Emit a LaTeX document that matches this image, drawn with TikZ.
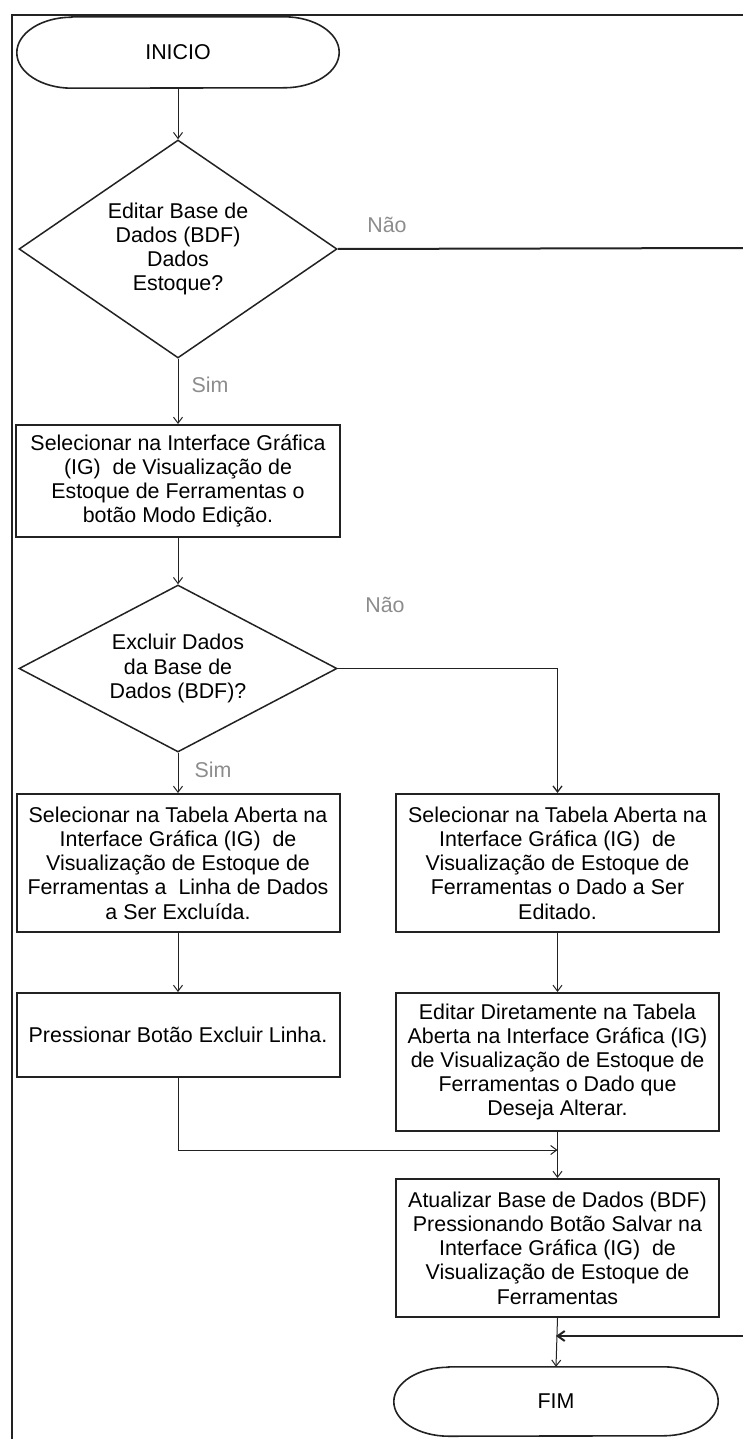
\documentclass[tikz,border=0pt]{standalone}
\usepackage{fontspec}
\setmainfont{Liberation Sans}
\usetikzlibrary{arrows.meta,shapes.geometric}
\definecolor{linec}{HTML}{222222}
\definecolor{labc}{HTML}{8C8C8C}
\tikzset{
  every node/.style={font=\fontsize{21.4}{24.2}\selectfont, align=center},
  procbox/.style={draw=linec, line width=2pt, rectangle, inner sep=0pt, text=black},
  decis/.style={draw=linec, line width=1.5pt, diamond, inner sep=0pt, text=black},
  termbox/.style={rectangle, inner sep=0pt, text=black},
  termline/.style={draw=linec, line width=1.6pt},
  conn/.style={draw=linec, line width=1pt, -{Straight Barb[length=6pt,width=9pt]}},
  sideconn/.style={draw=linec, line width=1.3pt, -{Straight Barb[length=6pt,width=9pt]}},
  thickline/.style={draw=linec, line width=2pt},
  thickconn/.style={draw=linec, line width=2pt, -{Straight Barb[length=7pt,width=10pt]}},
  framel/.style={draw=linec, line width=2pt},
  lab/.style={text=labc},
}
\begin{document}
\begin{tikzpicture}[x=1pt,y=-1pt]
\useasboundingbox (0,0) rectangle (743,1439);
% frame
\draw[framel] (743,15) -| (12,1439);

% terminals
\node[termbox, minimum width=322pt, minimum height=71pt] (inicio) at (178,52.5) {INICIO};
\draw[termline] ([xshift=55pt]inicio.north west) -- ([xshift=-55pt]inicio.north east)
  arc[start angle=90, end angle=-90, x radius=55pt, y radius=35.5pt]
  -- ([xshift=55pt]inicio.south west)
  arc[start angle=270, end angle=90, x radius=55pt, y radius=35.5pt] -- cycle;

\node[termbox, minimum width=324pt, minimum height=69pt] (fim) at (556,1401.5) {FIM};
\draw[termline] ([xshift=55pt]fim.north west) -- ([xshift=-55pt]fim.north east)
  arc[start angle=90, end angle=-90, x radius=55pt, y radius=34.5pt]
  -- ([xshift=55pt]fim.south west)
  arc[start angle=270, end angle=90, x radius=55pt, y radius=34.5pt] -- cycle;

% decisions
\node[decis, minimum width=318pt, minimum height=218pt, aspect=1.46] (d1) at (178,249)
  {Editar Base de\\Dados (BDF)\\Dados\\Estoque?};
\node[decis, minimum width=318pt, minimum height=167pt, aspect=1.9] (d2) at (178,668.5)
  {Excluir Dados\\da Base de\\Dados (BDF)?};

% process boxes
\node[procbox, minimum width=324pt, minimum height=112pt] (b1) at (178,481)
  {Selecionar na Interface Gráfica\\(IG)\ \ de Visualização de\\Estoque de Ferramentas o\\botão Modo Edição.};
\node[procbox, minimum width=323pt, minimum height=138pt] (l1) at (178,863)
  {Selecionar na Tabela Aberta na\\Interface Gráfica (IG)\ \ de\\Visualização de Estoque de\\Ferramentas a\ \ Linha de Dados\\a Ser Excluída.};
\node[procbox, minimum width=323pt, minimum height=138pt] (r1) at (557.5,863)
  {Selecionar na Tabela Aberta na\\Interface Gráfica (IG)\ \ de\\Visualização de Estoque de\\Ferramentas o Dado a Ser\\Editado.};
\node[procbox, minimum width=323pt, minimum height=84pt] (l2) at (178,1035)
  {Pressionar Botão Excluir Linha.};
\node[procbox, minimum width=323pt, minimum height=138pt] (r2) at (557.5,1062)
  {Editar Diretamente na Tabela\\Aberta na Interface Gráfica (IG)\\de Visualização de Estoque de\\Ferramentas o Dado que\\Deseja Alterar.};
\node[procbox, minimum width=323pt, minimum height=138pt] (b3) at (557.5,1248)
  {Atualizar Base de Dados (BDF)\\Pressionando Botão Salvar na\\Interface Gráfica (IG)\ \ de\\Visualização de Estoque de\\Ferramentas};

% labels
\node[lab] (nao1) at (387,225) {Não};
\node[lab] (sim1) at (210,385) {Sim};
\node[lab] (nao2) at (385,605) {Não};
\node[lab] (sim2) at (213,770) {Sim};

% free ends
\coordinate (naoend) at (743,248);
\coordinate (retstart) at (743,1336);
\coordinate (mergept) at (557.5,1150);

% connectors
\draw[conn] (inicio.south) -- (d1.north);
\draw[thickline] (d1.east) -- (naoend);
\draw[conn] (d1.south) -- (b1.north);
\draw[conn] (b1.south) -- (d2.north);
\draw[sideconn] (d2.east) -| (r1.north);
\draw[conn] (d2.south) -- (l1.north);
\draw[conn] (l1.south) -- (l2.north);
\draw[conn] (r1.south) -- (r2.north);
\draw[conn] (l2.south) |- (mergept);
\draw[conn] (r2.south) -- (b3.north);
\draw[conn] (b3.south) -- (fim.north);
\draw[thickconn] (retstart) -- (fim.north |- retstart);
\end{tikzpicture}
\end{document}
